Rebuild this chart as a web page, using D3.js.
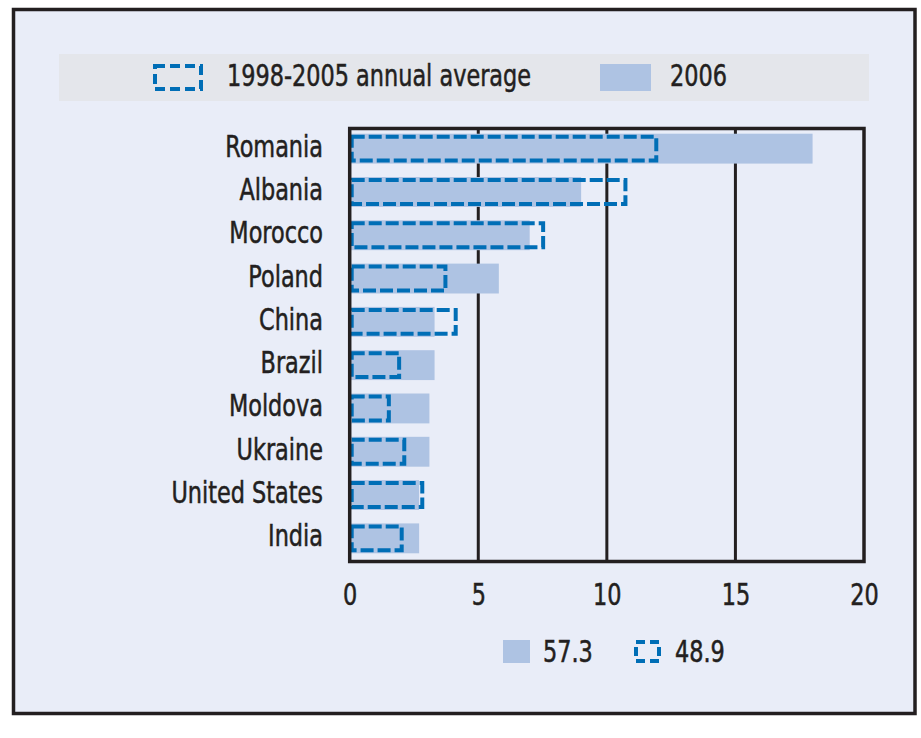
<!DOCTYPE html>
<html>
<head>
<meta charset="utf-8">
<script src="https://cdn.jsdelivr.net/npm/d3@7"></script>
<style>
  body { margin: 0; background: #fff; }
  text { font-family: "Liberation Sans Narrow", "Arial Narrow", "DejaVu Sans Condensed", sans-serif; fill: #231f20; stroke: #231f20; stroke-width: 0.5; }
</style>
</head>
<body>
<svg id="chart" width="921" height="738"></svg>
<script>
// data
const countries = ["Romania", "Albania", "Morocco", "Poland", "China", "Brazil", "Moldova", "Ukraine", "United States", "India"];
const values2006 = [18, 9, 7, 5.8, 3.3, 3.3, 3.1, 3.1, 2.7, 2.7];
const valuesAvg = [12, 10.8, 7.6, 3.8, 4.2, 2.0, 1.6, 2.2, 2.9, 2.1];
const xTicks = [0, 5, 10, 15, 20];
const legendLabels = ["1998-2005 annual average", "2006"];
const totals = ["57.3", "48.9"];

const solidColor = "#aec3e3";
const dashColor = "#006eb6";
const dash = "13,4";
const squeeze = "scale(0.83,1)"; // narrow type, no narrow font installed

const svg = d3.select("#chart");

function label(parent, x, y, txt, anchor) {
  return parent.append("text")
    .attr("transform", `translate(${x},${y}) ${squeeze}`)
    .attr("text-anchor", anchor || "start")
    .attr("font-size", 30)
    .text(txt);
}

// outer panel
svg.append("rect")
  .attr("x", 13.5).attr("y", 9.5)
  .attr("width", 901.5).attr("height", 704)
  .attr("fill", "#e9edf8")
  .attr("stroke", "#231f20").attr("stroke-width", 3.5);

// legend band
svg.append("rect")
  .attr("x", 59).attr("y", 54)
  .attr("width", 810).attr("height", 47)
  .attr("fill", "#e4e6eb");

svg.append("rect")
  .attr("x", 155).attr("y", 66)
  .attr("width", 46).attr("height", 23)
  .attr("fill", "none")
  .attr("stroke", dashColor).attr("stroke-width", 4)
  .attr("stroke-dasharray", "10,5");
label(svg, 227, 86, legendLabels[0]);

svg.append("rect")
  .attr("x", 600).attr("y", 64)
  .attr("width", 51).attr("height", 27)
  .attr("fill", solidColor);
label(svg, 670, 86, legendLabels[1]);

// plot
const plotL = 349.7, plotR = 864, plotT = 128.5, plotB = 561.5;

const x = d3.scaleLinear().domain([0, 20]).range([plotL, plotR]);
const y = d3.scaleBand().domain(countries).range([127, 560]).paddingInner(0.31).paddingOuter(0.155);

const g = svg.append("g");

// gridlines
g.selectAll(".grid")
  .data(xTicks.slice(1, -1))
  .enter().append("line")
  .attr("x1", d => x(d)).attr("x2", d => x(d))
  .attr("y1", plotT).attr("y2", plotB)
  .attr("stroke", "#231f20").attr("stroke-width", 3);

// 2006 bars
g.selectAll(".bar")
  .data(countries)
  .enter().append("rect")
  .attr("x", x(0))
  .attr("y", d => y(d))
  .attr("width", (d, i) => x(values2006[i]) - x(0))
  .attr("height", y.bandwidth())
  .attr("fill", solidColor);

// 1998-2005 average boxes
g.selectAll(".avg")
  .data(countries)
  .enter().append("rect")
  .attr("x", x(0) + 2)
  .attr("y", d => y(d) + 3)
  .attr("width", (d, i) => x(valuesAvg[i]) - x(0) - 4)
  .attr("height", y.bandwidth() - 6)
  .attr("fill", "none")
  .attr("stroke", dashColor).attr("stroke-width", 4)
  .attr("stroke-dasharray", dash);

// frame
g.append("rect")
  .attr("x", plotL).attr("y", plotT)
  .attr("width", plotR - plotL).attr("height", plotB - plotT)
  .attr("fill", "none")
  .attr("stroke", "#231f20").attr("stroke-width", 3.5);

// category labels
countries.forEach(d => label(g, 323, y(d) + y.bandwidth() / 2 + 8, d, "end"));

// x axis labels
const xAxis = d3.axisBottom(x).tickValues(xTicks).tickSize(0).tickPadding(0);
const ax = svg.append("g").attr("transform", "translate(0,583)").call(xAxis);
ax.select(".domain").remove();
ax.selectAll("text")
  .attr("dy", 0).attr("y", 0)
  .attr("transform", `translate(0,22) ${squeeze}`)
  .style("font-size", "30px")
  .style("font-family", "'Liberation Sans Narrow', 'Arial Narrow', 'DejaVu Sans Condensed', sans-serif")
  .attr("fill", "#231f20");

// totals legend
svg.append("rect")
  .attr("x", 503).attr("y", 640)
  .attr("width", 27).attr("height", 23)
  .attr("fill", solidColor);
label(svg, 543, 662, totals[0]);

svg.append("rect")
  .attr("x", 636).attr("y", 642)
  .attr("width", 23).attr("height", 19)
  .attr("fill", "none")
  .attr("stroke", dashColor).attr("stroke-width", 4)
  .attr("stroke-dasharray", "9,5");
label(svg, 675, 662, totals[1]);
</script>
</body>
</html>
